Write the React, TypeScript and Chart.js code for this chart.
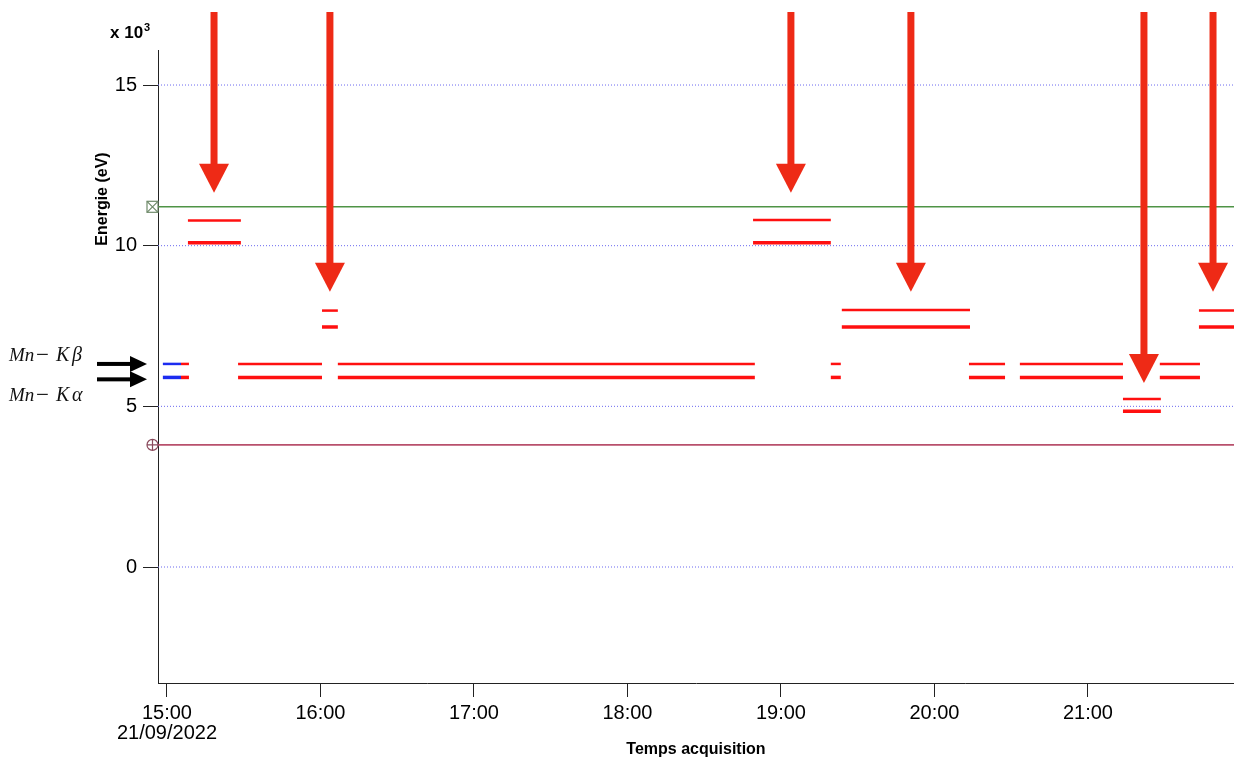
import React, { useEffect, useRef } from "react";
import { Chart, registerables } from "chart.js";

Chart.register(...registerables);

// Time axis: minutes after 15:00 on 21/09/2022. Energy axis: keV (x 10^3 eV).
const xMin = -3.5;
const xMax = 417.1;
const yMin = -3.61;
const yMax = 16.09;

const xTickMinutes = [0, 60, 120, 180, 240, 300, 360];
const xTickLabels: (string | string[])[] = [
  ["15:00", "21/09/2022"],
  "16:00",
  "17:00",
  "18:00",
  "19:00",
  "20:00",
  "21:00",
];
const yTickValues = [0, 5, 10, 15];

// Acquisition segments (start/end minute, upper and lower line energy)
const segStart = [-1.6, 5.5, 8.2, 27.8, 60.6, 66.8, 229.1, 259.5, 263.8, 313.5, 333.4, 373.7, 388.1, 403.4];
const segEnd = [5.5, 8.6, 28.9, 60.6, 66.8, 229.8, 259.5, 263.4, 313.9, 327.6, 373.7, 388.5, 403.8, 418];
const segUpper = [6.32, 6.32, 10.78, 6.32, 7.98, 6.32, 10.8, 6.32, 8.0, 6.32, 6.32, 5.23, 6.32, 7.98];
const segLower = [5.9, 5.9, 10.09, 5.9, 7.47, 5.9, 10.09, 5.9, 7.47, 5.9, 5.9, 4.85, 5.9, 7.47];
const segSource = ["reference", "sample", "sample", "sample", "sample", "sample", "sample", "sample", "sample", "sample", "sample", "sample", "sample", "sample"];

// Horizontal markers
const markerGreenValue = 11.21;
const markerRedValue = 3.8;

// Annotation arrows (minute position, energy of the tip)
const arrowMinutes = [18.4, 63.7, 243.9, 290.8, 381.9, 408.9];
const arrowTipEnergy = [11.65, 8.57, 11.65, 8.57, 5.73, 8.57];

// Mn line labels
const mnLabels = ["β", "α"];
const mnArrowEnergy = [6.32, 5.84];

const RED = "#ff1010";
const BLUE = "#1c2cf0";
const ARROW_RED = "#ee2a16";

function hline(value: number, color: string, width: number, dash: number[] = []) {
  return {
    type: "line" as const,
    data: [
      { x: xMin, y: value },
      { x: xMax + 5, y: value },
    ],
    borderColor: color,
    borderWidth: width,
    borderDash: dash,
    pointRadius: 0,
    fill: false,
  };
}

const overlayPlugin = {
  id: "overlay",
  afterDraw(chart: any) {
    const ctx: CanvasRenderingContext2D = chart.ctx;
    const xs = chart.scales.x;
    const ys = chart.scales.y;
    const area = chart.chartArea;
    ctx.save();

    // Markers on the left of the axis
    const mx = area.left - 5.5;
    const gy = ys.getPixelForValue(markerGreenValue);
    ctx.strokeStyle = "#6f8a6a";
    ctx.lineWidth = 1.2;
    ctx.strokeRect(mx - 5.5, gy - 5.5, 11, 11);
    ctx.beginPath();
    ctx.moveTo(mx - 5.5, gy - 5.5);
    ctx.lineTo(mx + 5.5, gy + 5.5);
    ctx.moveTo(mx + 5.5, gy - 5.5);
    ctx.lineTo(mx - 5.5, gy + 5.5);
    ctx.stroke();

    const ry = ys.getPixelForValue(markerRedValue);
    ctx.strokeStyle = "#8a4a5c";
    ctx.beginPath();
    ctx.arc(mx, ry, 5.5, 0, Math.PI * 2);
    ctx.moveTo(mx - 5.5, ry);
    ctx.lineTo(mx + 5.5, ry);
    ctx.moveTo(mx, ry - 5.5);
    ctx.lineTo(mx, ry + 5.5);
    ctx.stroke();

    // Red arrows
    ctx.fillStyle = ARROW_RED;
    arrowMinutes.forEach((m, i) => {
      const x = xs.getPixelForValue(m);
      const tip = ys.getPixelForValue(arrowTipEnergy[i]);
      const headH = 29;
      const headW = 30;
      ctx.fillRect(x - 3.5, 12, 7, tip - headH - 12 + 1);
      ctx.beginPath();
      ctx.moveTo(x - headW / 2, tip - headH);
      ctx.lineTo(x + headW / 2, tip - headH);
      ctx.lineTo(x, tip);
      ctx.closePath();
      ctx.fill();
    });

    // Black arrows for Mn lines
    ctx.fillStyle = "#000";
    mnArrowEnergy.forEach((e) => {
      const y = ys.getPixelForValue(e);
      ctx.fillRect(97, y - 2, 35, 4);
      ctx.beginPath();
      ctx.moveTo(130, y - 8);
      ctx.lineTo(147, y);
      ctx.lineTo(130, y + 8);
      ctx.closePath();
      ctx.fill();
    });

    // Mn labels
    ctx.fillStyle = "#111";
    ctx.textBaseline = "alphabetic";
    ctx.textAlign = "left";
    const baselines = [361, 401];
    mnLabels.forEach((g, i) => {
      const b = baselines[i];
      ctx.font = "italic 19px 'Liberation Serif'";
      ctx.fillText("Mn", 9, b);
      ctx.font = "23px 'Liberation Serif'";
      ctx.fillText("−", 36, b + 1);
      ctx.font = "italic 20px 'Liberation Serif'";
      ctx.fillText("K", 56, b);
      ctx.fillText(g, 72, b);
    });

    // Axis titles
    ctx.fillStyle = "#000";
    ctx.font = "bold 17px 'Liberation Sans'";
    ctx.textAlign = "left";
    ctx.textBaseline = "alphabetic";
    ctx.fillText("x 10", 110, 38);
    ctx.font = "bold 11px 'Liberation Sans'";
    ctx.fillText("3", 144, 31);

    ctx.font = "bold 16px 'Liberation Sans'";
    ctx.textAlign = "center";
    ctx.textBaseline = "middle";
    ctx.fillText("Temps acquisition", (area.left + area.right) / 2, 750);

    ctx.translate(103, 199);
    ctx.rotate(-Math.PI / 2);
    ctx.fillText("Energie (eV)", 0, 0);

    ctx.restore();
  },
};

export default function App() {
  const ref = useRef<HTMLCanvasElement | null>(null);

  useEffect(() => {
    if (!ref.current) return;
    const datasets: any[] = [];

    yTickValues.forEach((v) => datasets.push(hline(v, "#6a68f0", 1, [1, 2])));
    datasets.push(hline(markerGreenValue, "#4f9446", 1.5));
    datasets.push(hline(markerRedValue, "#b8506c", 1.8));

    segStart.forEach((s, i) => {
      const color = segSource[i] === "reference" ? BLUE : RED;
      datasets.push({
        type: "line",
        data: [
          { x: s, y: segUpper[i] },
          { x: segEnd[i], y: segUpper[i] },
        ],
        borderColor: color,
        borderWidth: 2.5,
        pointRadius: 0,
        fill: false,
      });
      datasets.push({
        type: "line",
        data: [
          { x: s, y: segLower[i] },
          { x: segEnd[i], y: segLower[i] },
        ],
        borderColor: color,
        borderWidth: 3.5,
        pointRadius: 0,
        fill: false,
      });
    });

    const chart = new Chart(ref.current, {
      type: "line",
      data: { datasets },
      plugins: [overlayPlugin],
      options: {
        animation: false,
        responsive: false,
        devicePixelRatio: 1,
        layout: { padding: { top: 50, left: 0, right: 0, bottom: 0 } },
        plugins: { legend: { display: false }, tooltip: { enabled: false } },
        scales: {
          x: {
            type: "linear",
            min: xMin,
            max: xMax,
            afterBuildTicks: (scale: any) => {
              scale.ticks = xTickMinutes.map((v) => ({ value: v }));
            },
            afterFit: (scale: any) => {
              scale.height = 77;
            },
            ticks: {
              autoSkip: false,
              maxRotation: 0,
              padding: 6,
              color: "#000",
              font: { family: "'Liberation Sans'", size: 20, lineHeight: 1 },
              callback: (_v: any, i: number) => xTickLabels[i],
            },
            grid: {
              drawOnChartArea: false,
              drawTicks: true,
              tickLength: 14,
              tickColor: "#222",
              color: "#222",
            },
            border: { color: "#222", width: 1 },
          },
          y: {
            type: "linear",
            min: yMin,
            max: yMax,
            afterBuildTicks: (scale: any) => {
              scale.ticks = yTickValues.map((v) => ({ value: v }));
            },
            afterFit: (scale: any) => {
              scale.width = 158;
            },
            ticks: {
              padding: 6,
              color: "#000",
              font: { family: "'Liberation Sans'", size: 20 },
              callback: (v: any) => String(v),
            },
            grid: {
              drawOnChartArea: false,
              drawTicks: true,
              tickLength: 15,
              tickColor: "#222",
              color: "#222",
            },
            border: { color: "#222", width: 1 },
          },
        },
      } as any,
    });
    return () => chart.destroy();
  }, []);

  return (
    <canvas
      ref={ref}
      width={1234}
      height={760}
      style={{ position: "fixed", left: 0, top: 0, width: 1234, height: 760, background: "#fff" }}
    />
  );
}
